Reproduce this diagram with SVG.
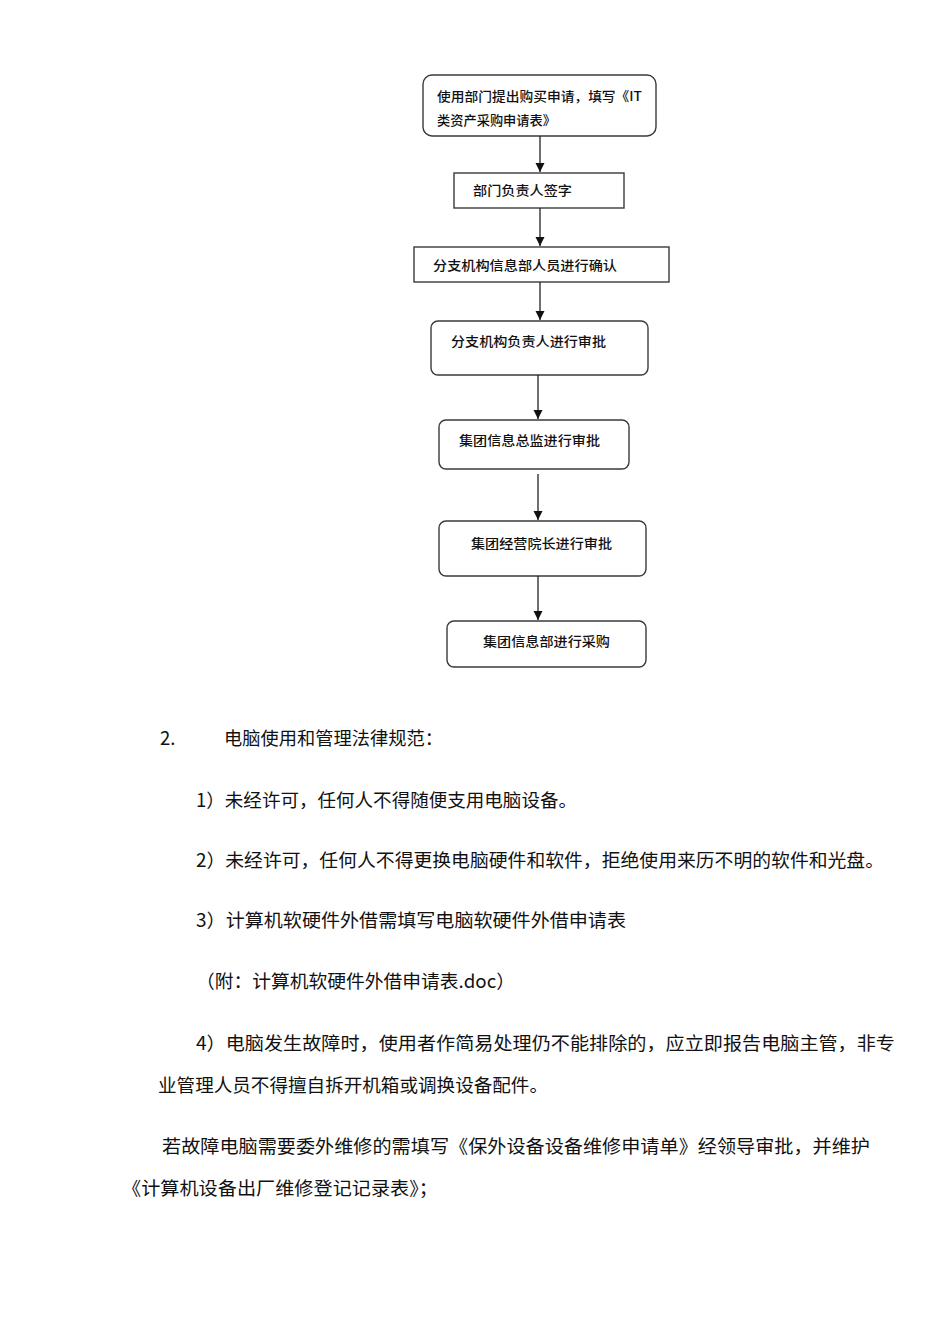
<svg xmlns="http://www.w3.org/2000/svg" width="950" height="1344" viewBox="0 0 950 1344">
<defs>
<style>
.box{fill:#fff;stroke:#3a3a3a;stroke-width:1.4}
.ft{font-family:"Noto Sans CJK SC","Noto Sans",sans-serif;font-size:13px;fill:#111;font-weight:500}
.bt{font-family:"Noto Sans CJK SC","Noto Sans",sans-serif;font-size:18.5px;fill:#111}
.ln{stroke:#222;stroke-width:1.3;fill:none}
</style>
<marker id="ah" markerWidth="12" markerHeight="12" refX="9" refY="4.5" orient="auto" markerUnits="userSpaceOnUse">
<path d="M0,0 L9,4.5 L0,9 Z" fill="#111"/>
</marker>
</defs>
<rect width="950" height="1344" fill="#fff"/>

<g id="n1">
<rect class="box" x="423" y="75" width="233" height="61" rx="9"/>
<text class="ft" x="437" y="101" textLength="205" lengthAdjust="spacingAndGlyphs">使用部门提出购买申请，填写《IT</text>
<text class="ft" x="437" y="125" textLength="119" lengthAdjust="spacingAndGlyphs">类资产采购申请表》</text>
</g>
<g id="n2">
<rect class="box" x="454" y="173" width="170" height="35"/>
<text class="ft" x="473" y="195" textLength="99" lengthAdjust="spacingAndGlyphs">部门负责人签字</text>
</g>
<g id="n3">
<rect class="box" x="414" y="247" width="255" height="35"/>
<text class="ft" x="433" y="270" textLength="184" lengthAdjust="spacingAndGlyphs">分支机构信息部人员进行确认</text>
</g>
<g id="n4">
<rect class="box" x="431" y="321" width="217" height="54" rx="7"/>
<text class="ft" x="451" y="346" textLength="155" lengthAdjust="spacingAndGlyphs">分支机构负责人进行审批</text>
</g>
<g id="n5">
<rect class="box" x="439" y="420" width="190" height="49" rx="7"/>
<text class="ft" x="459" y="445" textLength="141" lengthAdjust="spacingAndGlyphs">集团信息总监进行审批</text>
</g>
<g id="n6">
<rect class="box" x="439" y="521" width="207" height="55" rx="7"/>
<text class="ft" x="471" y="548" textLength="141" lengthAdjust="spacingAndGlyphs">集团经营院长进行审批</text>
</g>
<g id="n7">
<rect class="box" x="447" y="621" width="199" height="46" rx="7"/>
<text class="ft" x="483" y="646" textLength="127" lengthAdjust="spacingAndGlyphs">集团信息部进行采购</text>
</g>

<g id="connectors">
<line class="ln" x1="540" y1="136" x2="540" y2="172" marker-end="url(#ah)"/>
<line class="ln" x1="540" y1="208" x2="540" y2="246" marker-end="url(#ah)"/>
<line class="ln" x1="540" y1="282" x2="540" y2="320" marker-end="url(#ah)"/>
<line class="ln" x1="538" y1="375" x2="538" y2="419" marker-end="url(#ah)"/>
<line class="ln" x1="538" y1="474" x2="538" y2="520" marker-end="url(#ah)"/>
<line class="ln" x1="538" y1="576" x2="538" y2="620" marker-end="url(#ah)"/>
</g>

<g id="body">
<text class="bt" x="160" y="745">2.</text>
<text class="bt" x="224" y="745" textLength="219" lengthAdjust="spacingAndGlyphs">电脑使用和管理法律规范：</text>
<text class="bt" x="196" y="807" textLength="381" lengthAdjust="spacingAndGlyphs">1）未经许可，任何人不得随便支用电脑设备。</text>
<text class="bt" x="196" y="867" textLength="688" lengthAdjust="spacingAndGlyphs">2）未经许可，任何人不得更换电脑硬件和软件，拒绝使用来历不明的软件和光盘。</text>
<text class="bt" x="196" y="927" textLength="430" lengthAdjust="spacingAndGlyphs">3）计算机软硬件外借需填写电脑软硬件外借申请表</text>
<text class="bt" x="196" y="988" textLength="319" lengthAdjust="spacingAndGlyphs">（附：计算机软硬件外借申请表.doc）</text>
<text class="bt" x="196" y="1050" textLength="699" lengthAdjust="spacingAndGlyphs">4）电脑发生故障时，使用者作简易处理仍不能排除的，应立即报告电脑主管，非专</text>
<text class="bt" x="158" y="1092" textLength="390" lengthAdjust="spacingAndGlyphs">业管理人员不得擅自拆开机箱或调换设备配件。</text>
<text class="bt" x="162" y="1153" textLength="708" lengthAdjust="spacingAndGlyphs">若故障电脑需要委外维修的需填写《保外设备设备维修申请单》经领导审批，并维护</text>
<text class="bt" x="122" y="1195" textLength="316" lengthAdjust="spacingAndGlyphs">《计算机设备出厂维修登记记录表》；</text>
</g>
</svg>
